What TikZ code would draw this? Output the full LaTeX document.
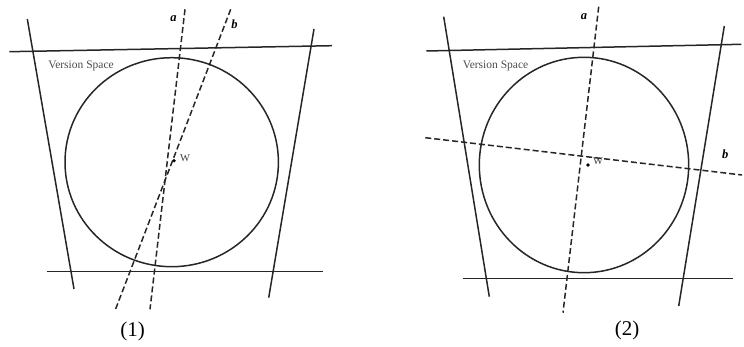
\documentclass[tikz,border=0pt]{standalone}
\usepackage{fontspec}
\setmainfont{Liberation Serif}
\begin{document}
\begin{tikzpicture}[x=1pt,y=-1pt,
  solidline/.style={draw=black!85, line width=1.5pt},
  dashline/.style={draw=black!85, line width=1.5pt, dash pattern=on 6pt off 3pt},
  lbl/.style={font=\fontsize{12.5}{12.5}\selectfont\bfseries\itshape, inner sep=0pt},
  vs/.style={font=\fontsize{11.5}{11.5}\selectfont, text=black!70, inner sep=0pt},
  wl/.style={font=\fontsize{10.5}{10.5}\selectfont, text=black!75, inner sep=0pt},
  captext/.style={font=\fontsize{21}{21}\selectfont, inner sep=0pt}]
\useasboundingbox (0,0) rectangle (744,347);
% ---------- Panel 1 ----------
\draw[solidline] (9.3,51.7) -- (332,45.7);
\draw[solidline] (46.7,271.7) -- (323,271.7);
\draw[solidline] (27.3,19) -- (74,289);
\draw[solidline] (314,29) -- (268.7,297.7);
\draw[solidline] (171.7,162.2) ellipse [x radius=106.7, y radius=104.5];
\draw[dashline] (185,9.3) -- (150,309.3);
\draw[dashline] (230.7,9.3) -- (115,310.7);
\node[lbl] (a1) at (173.5,19) {a};
\node[lbl] (b1) at (234.5,24.5) {b};
\fill (174,160.7) circle (1.8);
\node[wl] (w1) at (185,158) {W};
\node[vs] (vs1) at (81,66) {Version Space};
\node[captext] (c1) at (132.7,331) {(1)};
% ---------- Panel 2 ----------
\draw[solidline] (426.3,51) -- (741.3,44.3);
\draw[solidline] (462.7,278.3) -- (732.7,278.3);
\draw[solidline] (443.7,16.7) -- (489.3,296.7);
\draw[solidline] (724.3,26) -- (678.7,306);
\draw[solidline] (584,165) ellipse [x radius=104.7, y radius=107.7];
\draw[dashline] (598.7,6.7) -- (563,312.7);
\draw[dashline] (425.3,137.7) -- (742,175);
\node[lbl] (a2) at (584,16.7) {a};
\node[lbl] (b2) at (725.3,154) {b};
\fill (588,165) circle (1.8);
\node[wl] (w2) at (598,161.5) {W};
\node[vs] (vs2) at (495.5,65.7) {Version Space};
\node[captext] (c2) at (627,330) {(2)};
\end{tikzpicture}
\end{document}
